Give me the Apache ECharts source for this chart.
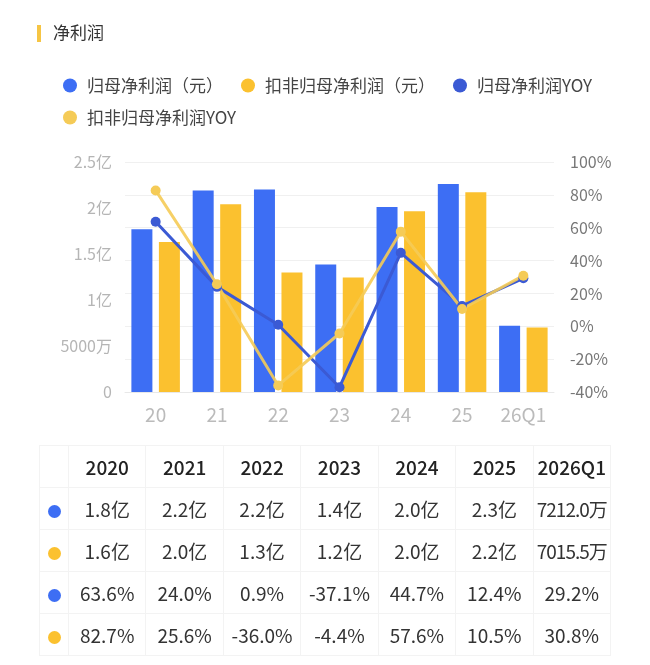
<!DOCTYPE html>
<html>
<head>
<meta charset="utf-8">
<script src="https://cdn.jsdelivr.net/npm/echarts@6/dist/echarts.min.js"></script>
<style>
  html, body { margin: 0; padding: 0; background: #fff; }
  #wrap { position: relative; width: 650px; height: 665px; font-family: "Noto Sans CJK SC", "Noto Sans", sans-serif; }
  #chart { position: absolute; left: 0; top: 0; width: 650px; height: 665px; }
  #tbl { position: absolute; left: 39px; top: 445px; width: 572px; height: 206px;
         border-collapse: collapse; table-layout: fixed; }
  #tbl td { border: 1px solid #f3f3f3; text-align: center; font-size: 19px; color: #333; padding: 0; height: 41px; }
  #tbl tr.head td { color: #222; font-weight: 500; }
  #tbl td.dot { width: 28px; }
  #tbl td.dot span { display: inline-block; width: 13px; height: 13px; border-radius: 50%; vertical-align: middle; }
  #tbl td.tight { letter-spacing: -1px; }
</style>
</head>
<body>
<div id="wrap">
  <div id="chart"></div>
  <table id="tbl"></table>
</div>
<script>
var categories = ['20', '21', '22', '23', '24', '25', '26Q1'];
var years = ['2020', '2021', '2022', '2023', '2024', '2025', '2026Q1'];
// 单位：亿元
var netProfit = [1.77, 2.19, 2.2, 1.386, 2.01, 2.26, 0.7212];
var netProfitDeducted = [1.63, 2.04, 1.30, 1.245, 1.965, 2.17, 0.70155];
// 同比 %
var netProfitYoy = [63.6, 24.0, 0.9, -37.1, 44.7, 12.4, 29.2];
var deductedYoy = [82.7, 25.6, -36.0, -4.4, 57.6, 10.5, 30.8];
// 表格文字
var netProfitText = ['1.8亿', '2.2亿', '2.2亿', '1.4亿', '2.0亿', '2.3亿', '7212.0万'];
var deductedText = ['1.6亿', '2.0亿', '1.3亿', '1.2亿', '2.0亿', '2.2亿', '7015.5万'];
var names = ['归母净利润（元）', '扣非归母净利润（元）', '归母净利润YOY', '扣非归母净利润YOY'];

var blue = '#3d6ef4';
var yellow = '#fbc12f';
var blueLine = '#3b5ad4';
var yellowLine = '#f5cb57';

var fmtYi = function (v) {
  if (v === 0) return '0';
  if (v < 1) return Math.round(v * 10000) + '万';
  return v + '亿';
};

var legendBase = {
  left: 63,
  padding: 0,
  itemWidth: 14,
  itemHeight: 14,
  itemGap: 18,
  icon: 'circle',
  textStyle: { fontSize: 17, color: '#444', padding: [0, 0, 0, 5] }
};

var option = {
  textStyle: { fontFamily: '"Noto Sans CJK SC", "Noto Sans", sans-serif' },
  title: {
    text: '净利润',
    left: 53,
    top: 24,
    padding: 0,
    textStyle: { fontSize: 17, color: '#333', fontWeight: 'normal' }
  },
  graphic: [{
    type: 'rect',
    shape: { x: 37, y: 25, width: 4, height: 17 },
    style: { fill: '#f6c544' }
  }],
  legend: [
    Object.assign({}, legendBase, { top: 77, data: names.slice(0, 3) }),
    Object.assign({}, legendBase, { top: 109, data: names.slice(3) })
  ],
  grid: {
    left: 125,
    right: 96,
    top: 162,
    bottom: 273
  },
  xAxis: [{
    type: 'category',
    data: categories,
    axisTick: { show: false },
    axisLine: { lineStyle: { color: '#e8e8e8' } },
    axisLabel: { color: '#bbb', fontSize: 19, margin: 13 }
  }],
  yAxis: [{
    type: 'value',
    min: 0,
    max: 2.5,
    interval: 0.5,
    splitLine: { show: false },
    axisLine: { show: false },
    axisTick: { show: false },
    axisLabel: { color: '#b5b5b5', fontSize: 16, margin: 13, formatter: fmtYi }
  }, {
    type: 'value',
    min: -40,
    max: 100,
    interval: 20,
    splitLine: { lineStyle: { color: '#f0f0f0' } },
    axisLine: { show: false },
    axisTick: { show: false },
    axisLabel: { color: '#777', fontSize: 16, margin: 16, formatter: '{value}%' }
  }],
  series: [{
    name: names[0],
    type: 'bar',
    barWidth: 21,
    barGap: '31%',
    itemStyle: { color: blue },
    data: netProfit
  }, {
    name: names[1],
    type: 'bar',
    barWidth: 21,
    itemStyle: { color: yellow },
    data: netProfitDeducted
  }, {
    name: names[2],
    type: 'line',
    yAxisIndex: 1,
    symbol: 'circle',
    symbolSize: 10,
    itemStyle: { color: blueLine },
    lineStyle: { color: blueLine, width: 3 },
    data: netProfitYoy
  }, {
    name: names[3],
    type: 'line',
    yAxisIndex: 1,
    symbol: 'circle',
    symbolSize: 10,
    itemStyle: { color: yellowLine },
    lineStyle: { color: yellowLine, width: 3, opacity: 0.9 },
    data: deductedYoy
  }]
};

var chart = echarts.init(document.getElementById('chart'));
chart.setOption(option);

// 表格
var rows = [
  { dot: null, cells: years },
  { dot: blue, cells: netProfitText },
  { dot: yellow, cells: deductedText },
  { dot: blue, cells: netProfitYoy.map(function (v) { return v.toFixed(1) + '%'; }) },
  { dot: yellow, cells: deductedYoy.map(function (v) { return v.toFixed(1) + '%'; }) }
];
var html = '';
rows.forEach(function (r, i) {
  html += '<tr' + (i === 0 ? ' class="head"' : '') + '>';
  html += '<td class="dot">' + (r.dot ? '<span style="background:' + r.dot + '"></span>' : '') + '</td>';
  r.cells.forEach(function (c) {
    html += '<td' + (c.indexOf('万') >= 0 ? ' class="tight"' : '') + '>' + c + '</td>';
  });
  html += '</tr>';
});
document.getElementById('tbl').innerHTML = html;
</script>
</body>
</html>
